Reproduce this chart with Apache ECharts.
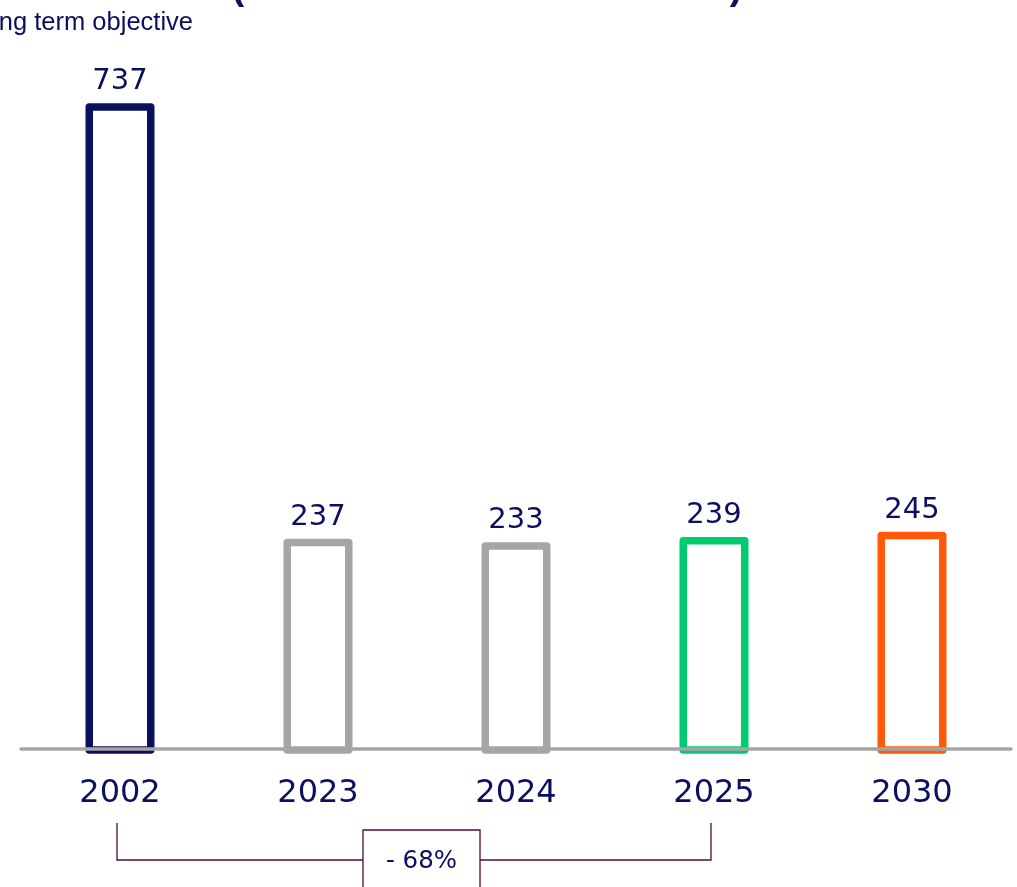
<!DOCTYPE html>
<html>
<head>
<meta charset="utf-8">
<script src="https://cdn.jsdelivr.net/npm/echarts@6/dist/echarts.min.js"></script>
<style>
html,body{margin:0;padding:0;background:#fff;}
#c{width:1017px;height:887px;}
</style>
</head>
<body>
<div id="c"></div>
<script>
const categories = ['2002', '2023', '2024', '2025', '2030'];
const values = [737, 237, 233, 239, 245];
const barColors = ['#0a0f5e', '#a5a5a5', '#a5a5a5', '#00cc6f', '#ff5a0a'];
const titleText = '(kWh/m\u00b2 mall and toilet area)';
const subtitleText = 'Long term objective';
const changeText = '- 68%';
const changeFrom = '2002';
const changeTo = '2025';

const navy = '#0a0f5e';
const font = '"Liberation Sans", Arial, sans-serif';
const numFont = '"DejaVu Sans", sans-serif';
const chart = echarts.init(document.getElementById('c'));

const barW = 61.5;
const option = {
  animation: false,
  backgroundColor: '#ffffff',
  grid: { left: 21, right: 6, top: 52, bottom: 138 },
  xAxis: {
    type: 'category',
    data: categories,
    z: 5,
    axisLine: { lineStyle: { color: '#a5a5a5', width: 3.5 } },
    axisTick: { show: false },
    axisLabel: { color: navy, fontSize: 32, fontFamily: numFont, margin: 29 }
  },
  yAxis: { type: 'value', min: 0, max: 800, show: false, splitLine: { show: false } },
  series: [{
    type: 'custom',
    z: 2,
    data: values.map((v, i) => [i, v]),
    encode: { x: 0, y: 1 },
    renderItem: function (params, api) {
      const i = api.value(0), v = api.value(1);
      const base = api.coord([i, 0]);
      const top = api.coord([i, v]);
      return {
        type: 'group',
        children: [
          { type: 'rect',
            shape: { x: top[0] - barW / 2, y: top[1], width: barW, height: base[1] - top[1] + 1 },
            style: { fill: '#ffffff', stroke: barColors[i], lineWidth: 7.5, lineJoin: 'round' } },
          { type: 'text', x: top[0], y: top[1] - 11,
            style: { text: String(v), fill: navy, font: '29px ' + numFont, align: 'center', verticalAlign: 'bottom' } }
        ]
      };
    }
  }]
};
chart.setOption(option);

const x1 = chart.convertToPixel({ xAxisIndex: 0 }, changeFrom) - 3;
const x2 = chart.convertToPixel({ xAxisIndex: 0 }, changeTo) - 3;
const lc = '#4a0c3a';
const boxL = 363, boxR = 480;
chart.setOption({
  graphic: [
    { type: 'text', x: 487, y: -30.5,
      style: { text: titleText, font: 'bold 37.5px ' + font, fill: navy, align: 'center' } },
    { type: 'text', x: 193, y: 23,
      style: { text: subtitleText, font: '25.5px ' + font, fill: navy, align: 'right', verticalAlign: 'middle' } },
    { type: 'polyline', shape: { points: [[x1, 823], [x1, 860], [boxL, 860]] }, style: { stroke: lc, lineWidth: 1.3, fill: null } },
    { type: 'polyline', shape: { points: [[boxR, 860], [x2, 860], [x2, 823]] }, style: { stroke: lc, lineWidth: 1.3, fill: null } },
    { type: 'rect', shape: { x: boxL, y: 830, width: boxR - boxL, height: 70 }, style: { stroke: lc, lineWidth: 1.3, fill: '#fff' } },
    { type: 'text', x: (boxL + boxR) / 2, y: 862,
      style: { text: changeText, font: '24.5px ' + numFont, fill: navy, align: 'center', verticalAlign: 'middle' } }
  ]
});
</script>
</body>
</html>
